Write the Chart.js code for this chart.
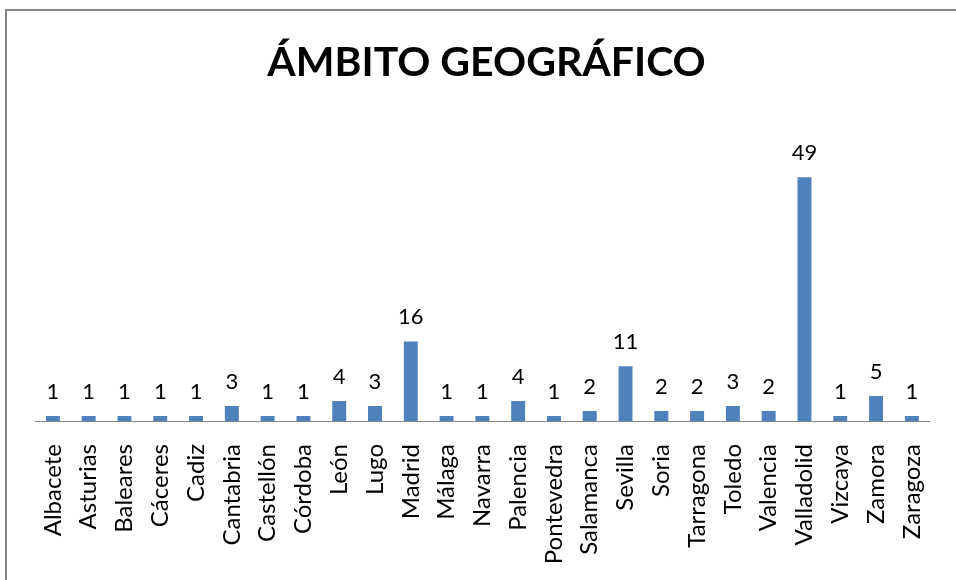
<!DOCTYPE html>
<html>
<head>
<meta charset="utf-8">
<title>Ámbito geográfico</title>
<script src="https://cdn.jsdelivr.net/npm/chart.js@4"></script>
<style>
    html, body { margin: 0; padding: 0; background: #fff; }
    canvas { display: block; }
</style>
</head>
<body>
<canvas id="chart" width="956" height="580"></canvas>
<script>
// Provinces and number of entries per province
const provinces = [
    'Albacete', 'Asturias', 'Baleares', 'Cáceres', 'Cadiz', 'Cantabria',
    'Castellón', 'Córdoba', 'León', 'Lugo', 'Madrid', 'Málaga', 'Navarra',
    'Palencia', 'Pontevedra', 'Salamanca', 'Sevilla', 'Soria', 'Tarragona',
    'Toledo', 'Valencia', 'Valladolid', 'Vizcaya', 'Zamora', 'Zaragoza'
];
const counts = [1, 1, 1, 1, 1, 3, 1, 1, 4, 3, 16, 1, 1, 4, 1, 2, 11, 2, 2, 3, 2, 49, 1, 5, 1];
const chartTitle = 'ÁMBITO GEOGRÁFICO';

const FONT = 'Lato, "Open Sans", sans-serif';

// grey frame round the chart (only top and left edges are in view)
const framePlugin = {
    id: 'frame',
    beforeDraw(chart) {
        const ctx = chart.ctx;
        ctx.save();
        ctx.fillStyle = '#fff';
        ctx.fillRect(0, 0, chart.width, chart.height);
        ctx.strokeStyle = '#868686';
        ctx.lineWidth = 2;
        ctx.beginPath();
        ctx.moveTo(6, chart.height);
        ctx.lineTo(6, 10);
        ctx.lineTo(chart.width, 10);
        ctx.stroke();
        ctx.restore();
    }
};

// value labels above each bar
const valueLabels = {
    id: 'valueLabels',
    afterDatasetsDraw(chart) {
        const ctx = chart.ctx;
        const meta = chart.getDatasetMeta(0);
        ctx.save();
        ctx.font = '22px ' + FONT;
        ctx.fillStyle = '#000';
        ctx.textAlign = 'center';
        ctx.textBaseline = 'middle';
        meta.data.forEach((bar, i) => {
            ctx.fillText(counts[i], bar.x, bar.y - 24);
        });
        ctx.restore();
    }
};

new Chart(document.getElementById('chart'), {
    type: 'bar',
    data: {
        labels: provinces,
        datasets: [{
            data: counts,
            backgroundColor: '#4F81BD',
            barPercentage: 0.39,
            categoryPercentage: 1
        }]
    },
    options: {
        responsive: false,
        animation: false,
        layout: {
            padding: { left: 35, right: 18, top: 0, bottom: 0 }
        },
        plugins: {
            legend: { display: false },
            tooltip: { enabled: false },
            title: {
                display: true,
                text: chartTitle,
                color: '#000',
                font: { family: FONT, size: 41, weight: 'bold', lineHeight: 1.2 },
                padding: { top: 38, bottom: 85 }
            }
        },
        scales: {
            x: {
                grid: { display: false },
                border: { display: true, color: '#868686', width: 1 },
                ticks: {
                    color: '#000',
                    font: { family: FONT, size: 24 },
                    minRotation: 90,
                    maxRotation: 90,
                    autoSkip: false,
                    padding: 15
                },
                afterFit(scale) {
                    scale.height = 159;
                }
            },
            y: {
                display: false,
                min: 0,
                max: 50
            }
        }
    },
    plugins: [framePlugin, valueLabels]
});
</script>
</body>
</html>
